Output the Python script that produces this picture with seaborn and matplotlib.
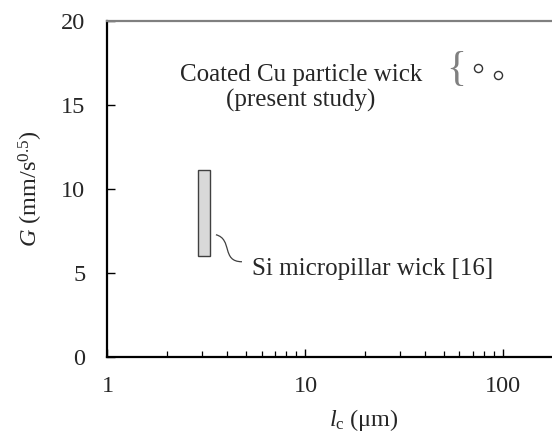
import numpy as np
import pandas as pd
import matplotlib
matplotlib.use("Agg")
import matplotlib.pyplot as plt
from matplotlib.path import Path
from matplotlib.patches import PathPatch
import seaborn as sns

# Si micropillar wick [16]: range of l_c and G
si_lc = [2.85, 3.3]
si_G = [6.0, 11.1]

# coated Cu particle wick (present study)
cu_lc = [74, 94]
cu_G = [17.2, 16.8]

x_ticks = [1, 10, 100]
y_ticks = [0, 5, 10, 15, 20]

sns.set_style("ticks")
plt.rcParams['font.family'] = ['Liberation Serif', 'DejaVu Serif']
plt.rcParams['mathtext.fontset'] = 'custom'
plt.rcParams['mathtext.rm'] = 'Liberation Serif'
plt.rcParams['mathtext.it'] = 'Liberation Serif:italic'

fig = plt.figure(figsize=(5.52, 4.48), dpi=100)
ax = fig.add_axes([0.1947, 0.2042, 0.8053, 0.7489])

ax.set_xscale('log')
ax.set_xlim(1, 176)
ax.set_ylim(0, 20)

# Si micropillar range as a box
ax.bar(si_lc[0], si_G[1] - si_G[0], width=si_lc[1] - si_lc[0], bottom=si_G[0],
       align='edge', color='#d9d9d9', edgecolor='#404040', linewidth=1.0, zorder=3)

cu = pd.DataFrame({'lc': cu_lc, 'G': cu_G})
sns.scatterplot(data=cu, x='lc', y='G', ax=ax, marker='o', s=34,
                facecolor='white', edgecolor='#333333', linewidth=1.0, zorder=4)

# wavy leader line to the Si label
verts = [(3.53, 7.26), (4.3, 7.0), (3.75, 5.65), (4.78, 5.65)]
codes = [Path.MOVETO, Path.CURVE4, Path.CURVE4, Path.CURVE4]
ax.add_patch(PathPatch(Path(verts, codes), facecolor='none', edgecolor='#404040', lw=0.9))

ax.text(5.37, 5.2, 'Si micropillar wick [16]', fontsize=18, ha='left', va='center')
ax.text(9.5, 16.0, 'Coated Cu particle wick\n(present study)', fontsize=18,
        ha='center', va='center', multialignment='center', linespacing=1.2)
ax.text(58, 17.1, '{', fontsize=30, ha='center', va='center', color='#808080',
        fontweight='light')

ax.set_xticks(x_ticks)
ax.set_xticklabels([str(t) for t in x_ticks])
ax.set_yticks(y_ticks)
ax.tick_params(axis='both', which='major', direction='in', length=5.5, width=1.0,
               labelsize=17.5, color='black', pad=14)
ax.tick_params(axis='x', which='minor', direction='in', length=4, width=0.9, color='black')
ax.tick_params(axis='y', pad=16)

ax.set_xlabel(r'$l_\mathrm{c}$ (μm)', fontsize=17.5)
ax.xaxis.set_label_coords(0.577, -0.15)
ax.set_ylabel(r'$G$ (mm/s$^{0.5}$)', fontsize=17.5)
ax.yaxis.set_label_coords(-0.14, 0.5)

for side in ['left', 'bottom']:
    ax.spines[side].set_color('black')
    ax.spines[side].set_linewidth(1.6)
ax.spines['top'].set_color('#808080')
ax.spines['top'].set_linewidth(1.6)
ax.spines['right'].set_visible(False)

fig.savefig('out.png', dpi=100)
